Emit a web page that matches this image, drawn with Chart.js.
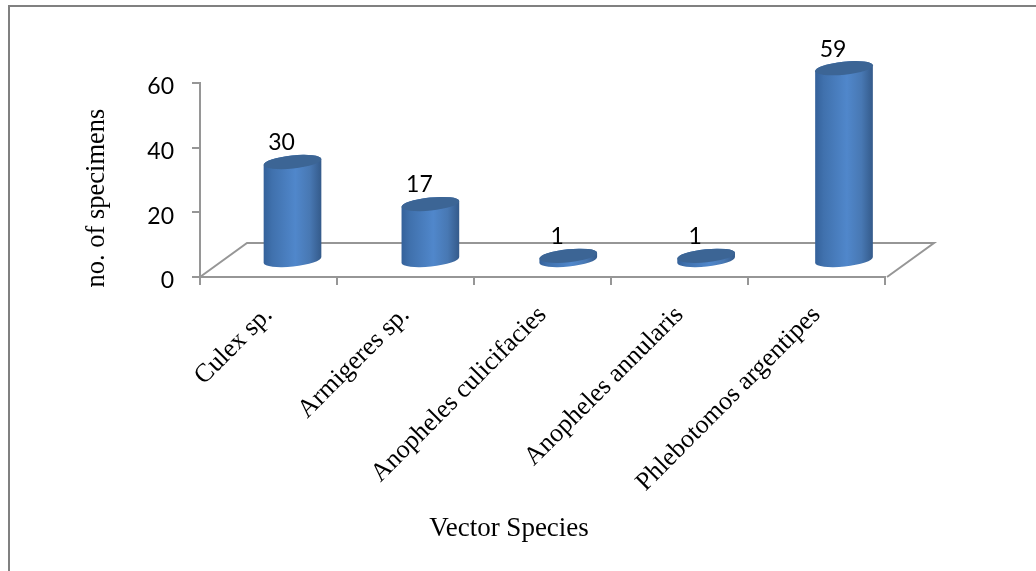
<!DOCTYPE html>
<html><head><meta charset="utf-8">
<style>
html,body{margin:0;padding:0;background:#fff;width:1036px;height:571px;overflow:hidden}
canvas{position:absolute;left:0;top:0}
#frame{position:absolute;left:8px;top:5px;width:1028px;height:566px;border-left:2px solid #808080;border-top:2px solid #808080;box-sizing:border-box}
</style>
<script src="https://cdn.jsdelivr.net/npm/chart.js@4"></script>
</head><body>
<div id="frame"></div>
<canvas id="c" width="1036" height="571"></canvas>
<script>
const categories = ["Culex sp.", "Armigeres sp.", "Anopheles culicifacies", "Anopheles annularis", "Phlebotomos argentipes"];
const specimens = [30, 17, 1, 1, 59];
const yTicks = [0, 20, 40, 60];
const xTitle = "Vector Species";
const yTitle = "no. of specimens";

const AXIS = "#969696";
const DEPTH_X = 47, DEPTH_Y = -34, CYL_DX = 24, CYL_DY = -18, CYL_RX = 29, CYL_RY = 6.5, TILT = -6 * Math.PI / 180, STRETCH = 0.0064;
const LABEL_DX = -11;

const scene = {
  id: "scene",
  beforeDatasetsDraw(chart) {
    const {ctx, scales: {x, y}} = chart;
    const y0 = y.getPixelForValue(0), l = x.left, r = x.right;
    ctx.save();
    ctx.strokeStyle = AXIS; ctx.lineWidth = 2;
    ctx.beginPath();
    ctx.moveTo(l, y0); ctx.lineTo(l + DEPTH_X, y0 + DEPTH_Y);
    ctx.lineTo(r + DEPTH_X + 2, y0 + DEPTH_Y); ctx.lineTo(r + 2, y0);
    ctx.stroke();
    ctx.restore();
  },
  afterDatasetsDraw(chart) {
    const {ctx, scales: {x, y}} = chart;
    const meta = chart.getDatasetMeta(0), base = y.getPixelForValue(0) + CYL_DY + 1;
    const first = meta.data[0].x;
    meta.data.forEach((bar, i) => {
      const cx = bar.x + CYL_DX + (bar.x - first) * STRETCH, top = bar.y + CYL_DY;
      const g = ctx.createLinearGradient(cx - CYL_RX, 0, cx + CYL_RX, 0);
      g.addColorStop(0, "#34619a"); g.addColorStop(0.15, "#4071ad");
      g.addColorStop(0.55, "#5087cb"); g.addColorStop(0.8, "#4878b3");
      g.addColorStop(1, "#345a8a");
      ctx.save();
      ctx.fillStyle = g;
      ctx.beginPath();
      ctx.ellipse(cx, base, CYL_RX, CYL_RY, TILT, Math.PI, 0, true);
      ctx.ellipse(cx, top, CYL_RX, CYL_RY, TILT, 0, Math.PI, true);
      ctx.closePath(); ctx.fill();
      ctx.fillStyle = "#3c6595";
      ctx.beginPath();
      ctx.ellipse(cx, top, CYL_RX, CYL_RY, TILT, 0, Math.PI * 2);
      ctx.fill();
      ctx.fillStyle = "#000";
      ctx.font = '23px Lato';
      ctx.textAlign = "center"; ctx.textBaseline = "middle";
      ctx.fillText(String(specimens[i]), cx + LABEL_DX, top - 19);
      ctx.restore();
    });
    ctx.save();
    ctx.fillStyle = "#000";
    ctx.textAlign = "center"; ctx.textBaseline = "middle";
    ctx.font = '27px "Liberation Serif"';
    ctx.fillText(xTitle, 509, 528.5);
    ctx.font = '26.5px "Liberation Serif"';
    ctx.translate(97.5, 198); ctx.rotate(-Math.PI / 2);
    ctx.fillText(yTitle, 0, 0);
    ctx.restore();
  }
};

new Chart(document.getElementById("c"), {
  type: "bar",
  data: {labels: categories, datasets: [{label: "no. of specimens", data: specimens, backgroundColor: "rgba(0,0,0,0)", borderWidth: 0}]},
  plugins: [scene],
  options: {
    responsive: false, animation: false, devicePixelRatio: 1,
    layout: {padding: {left: 0, right: 151, top: 83, bottom: 0}},
    plugins: {legend: {display: false}, tooltip: {enabled: false}},
    scales: {
      x: {
        afterFit(s) { s.height = 294; },
        grid: {drawOnChartArea: false, color: AXIS, tickLength: 8, lineWidth: 2},
        border: {color: AXIS, width: 2},
        ticks: {maxRotation: 45, minRotation: 45, padding: 15, color: "#000", autoSkip: false,
                font: {family: "Liberation Serif", size: 26}}
      },
      y: {
        min: 0, max: 60,
        afterFit(s) { s.width = 200; },
        afterBuildTicks(s) { s.ticks = yTicks.map(v => ({value: v})); },
        grid: {drawOnChartArea: false, color: AXIS, tickLength: 8, lineWidth: 2},
        border: {color: AXIS, width: 2},
        ticks: {padding: 18, labelOffset: 4, color: "#000", font: {family: "Lato", size: 23}}
      }
    }
  }
});
</script>
</body></html>
